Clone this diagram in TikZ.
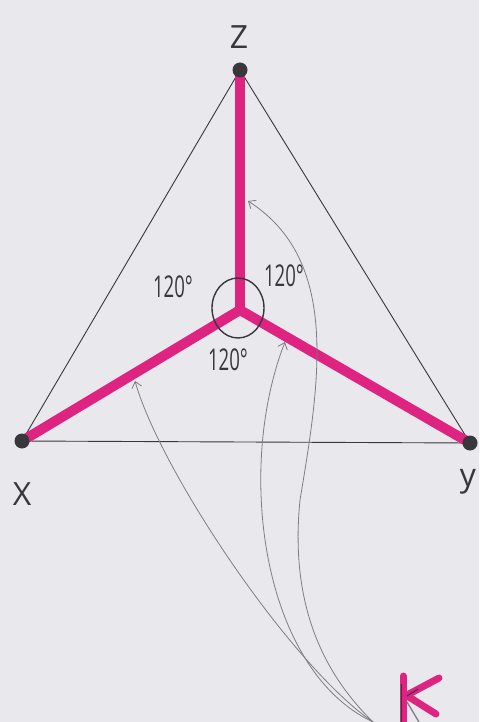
\documentclass[tikz,border=0pt]{standalone}
\usepackage{fontspec}
\setmainfont{Open Sans}
\usetikzlibrary{arrows.meta}
\definecolor{paper}{RGB}{233,233,237}
\definecolor{mag}{RGB}{222,35,128}
\definecolor{pencil}{RGB}{55,55,60}
\definecolor{graphite}{RGB}{125,125,130}
\begin{document}
\begin{tikzpicture}[x=1pt,y=-1pt,
  edge/.style={draw=pencil,line width=0.9pt},
  bar/.style={draw=mag,line width=10pt,line cap=round},
  vdot/.style={circle,fill=pencil,inner sep=0pt,minimum size=15pt},
  lbl/.style={text=pencil,font=\fontsize{32}{32}\selectfont,inner sep=0pt},
  ang/.style={text=pencil,font=\fontsize{30}{30}\selectfont,inner sep=0pt},
  hint/.style={draw=graphite,line width=0.8pt,-{Straight Barb[length=6pt,width=10pt]}},
  kbar/.style={draw=mag,line width=7pt,line cap=round}]
\fill[paper] (0,0) rectangle (479,722);
\useasboundingbox (0,0) rectangle (479,722);
% vertices and Fermat point
\coordinate (Zc) at (240,70);
\coordinate (Xc) at (22,441);
\coordinate (Yc) at (470,443);
\coordinate (F) at (240,310);
% triangle
\draw[edge] (Zc) -- (Xc) -- (Yc) -- cycle;
% magenta segments
\draw[bar] (F) -- (Zc);
\draw[bar] (F) -- (Xc);
\draw[bar] (F) -- (Yc);
% vertex dots
\node[vdot] (Z) at (Zc) {};
\node[vdot] (X) at (Xc) {};
\node[vdot] (Y) at (Yc) {};
% circle around the point
\draw[draw=pencil,line width=1.4pt] (238,308) ellipse [x radius=26, y radius=30];
% labels
\node[lbl] (lz) at (239,37) {Z};
\node[lbl] (lx) at (22,494) {X};
\node[lbl] (ly) at (468,482) {y};
\node[ang] (a1) at (173,287) {\scalebox{0.62}[1]{120°}};
\node[ang] (a2) at (284,276) {\scalebox{0.62}[1]{120°}};
\node[ang] (a3) at (228,360) {\scalebox{0.62}[1]{120°}};
% K mark
\coordinate (K0) at (373,722);
\draw[kbar] (403,676) -- (403,725);
\draw[kbar] (409,694) -- (439,678);
\draw[kbar] (409,697) -- (436,714);
\draw[draw=pencil,line width=1pt] (401,684) -- (401,722);
\draw[draw=graphite,line width=1.3pt] (407,702) -- (419,722);
\draw[draw=pencil,line width=1pt] (407,696) -- (418,689);
% arrow tip targets
\coordinate (t1) at (135,381);
\coordinate (t2) at (285,342);
\coordinate (t3) at (248,201);
\draw[hint] (K0) .. controls (290,665) and (160,470) .. (t1);
\draw[hint] (K0) .. controls (262,670) and (235,470) .. (t2);
\draw[hint] (K0) .. controls (320,670) and (290,600) .. (300,500)
  .. controls (320,380) and (340,260) .. (t3);
\end{tikzpicture}
\end{document}
